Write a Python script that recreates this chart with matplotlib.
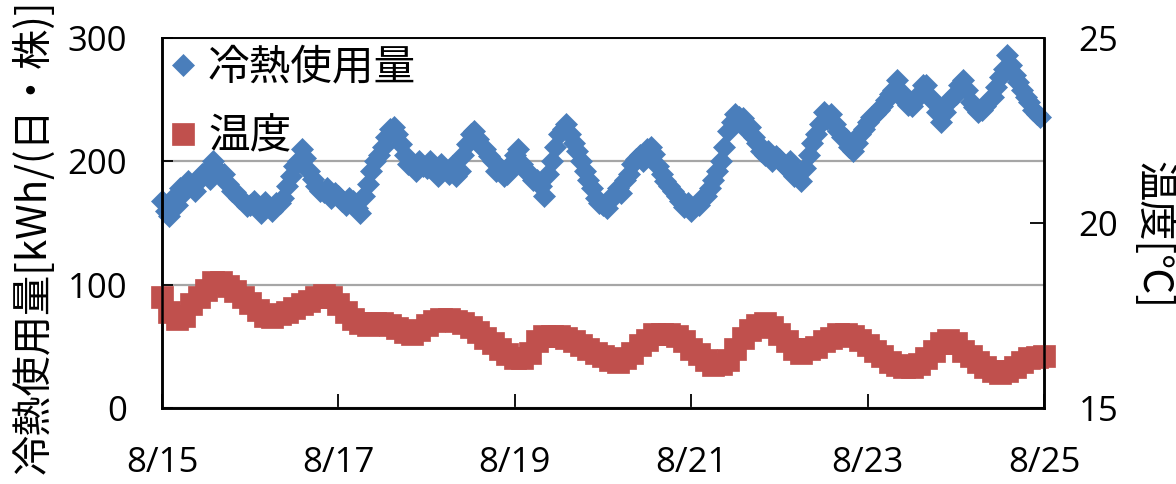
import matplotlib.pyplot as plt
import numpy as np

# cooling: hourly readings, 8/15 0:00 -> 8/24 23:00
cool_hours = np.arange(0, 240)
cooling = [
    168, 160, 156, 170, 165, 178, 175, 184, 180, 176, 185, 190,   # 8/15
    192, 186, 200, 194, 188, 190, 182, 176, 175, 170, 168, 164,
    165, 168, 162, 158, 167, 163, 160, 166, 166, 170, 180, 188,   # 8/16
    196, 200, 210, 203, 192, 186, 180, 176, 175, 178, 170, 174,
    172, 168, 165, 170, 168, 162, 158, 172, 182, 192, 200, 205,   # 8/17
    212, 220, 226, 228, 222, 214, 205, 198, 196, 192, 200, 196,
    195, 200, 192, 188, 198, 194, 190, 196, 188, 192, 205, 214,   # 8/18
    222, 225, 218, 212, 210, 204, 200, 192, 195, 188, 190, 198,
    205, 210, 198, 192, 190, 185, 185, 180, 172, 190, 200, 212,   # 8/19
    222, 226, 230, 222, 215, 208, 200, 192, 185, 178, 170, 166,
    165, 162, 170, 172, 178, 174, 185, 190, 198, 202, 205, 200,   # 8/20
    210, 212, 206, 196, 190, 184, 180, 176, 172, 168, 163, 166,
    160, 164, 165, 170, 172, 178, 185, 192, 200, 212, 225, 232,   # 8/21
    238, 236, 235, 226, 228, 220, 215, 208, 205, 208, 200, 204,
    202, 198, 195, 200, 188, 190, 184, 195, 205, 215, 222, 230,   # 8/22
    240, 234, 238, 230, 225, 220, 218, 212, 208, 215, 222, 226,
    232, 236, 238, 242, 245, 250, 255, 258, 266, 256, 250, 246,   # 8/23
    245, 250, 255, 262, 262, 252, 248, 240, 232, 240, 248, 252,
    255, 262, 266, 258, 248, 244, 240, 242, 245, 250, 252, 260,   # 8/24
    268, 275, 286, 278, 270, 264, 258, 252, 248, 242, 238, 236,
]

# temperature: 2-hourly readings, 8/15 0:00 -> 8/25 0:00
temp_hours = np.arange(0, 241, 2)
temperature = [
    18.0, 17.6, 17.4, 17.5, 17.8, 18.0, 18.2, 18.4, 18.4, 18.3, 18.15, 18.0,
    17.85, 17.65, 17.5, 17.45, 17.55, 17.6, 17.7, 17.8, 17.9, 18.0, 18.05, 18.0,
    17.8, 17.6, 17.4, 17.3, 17.25, 17.3, 17.3, 17.25, 17.15, 17.05, 17.0, 17.1,
    17.25, 17.35, 17.4, 17.4, 17.35, 17.3, 17.2, 17.05, 16.9, 16.75, 16.6, 16.45,
    16.35, 16.35, 16.5, 16.8, 16.95, 16.95, 16.95, 16.9, 16.82, 16.7, 16.6, 16.5,
    16.4, 16.3, 16.25, 16.35, 16.5, 16.7, 16.85, 17.0, 17.0, 17.0, 16.95, 16.8,
    16.6, 16.45, 16.3, 16.15, 16.2, 16.3, 16.6, 16.9, 17.1, 17.25, 17.3, 17.2,
    17.0, 16.8, 16.6, 16.5, 16.6, 16.65, 16.8, 16.9, 17.0, 17.0, 16.95, 16.85,
    16.7, 16.55, 16.4, 16.25, 16.15, 16.1, 16.1, 16.2, 16.35, 16.55, 16.75, 16.85,
    16.75, 16.55, 16.4, 16.25, 16.1, 16.0, 15.95, 16.0, 16.1, 16.25, 16.35, 16.38,
    16.4,
]

tick_days = [0, 2, 4, 6, 8, 10]
tick_labels = ['8/15', '8/17', '8/19', '8/21', '8/23', '8/25']

blue = '#4A7EBB'
red = '#C0504D'
jp = ['Noto Sans CJK JP', 'DejaVu Sans']
num_font = 'Open Sans'

fig = plt.figure(figsize=(11.76, 4.84), dpi=100)
ax = fig.add_axes([162 / 1176, 76 / 484, 882 / 1176, 370 / 484])
ax2 = ax.twinx()

l1, = ax.plot(cool_hours / 24.0, cooling, 'D', ms=11, color=blue, mec=blue,
              mew=0.5, clip_on=False, label='冷熱使用量')
l2, = ax2.plot(temp_hours / 24.0, temperature, 's', ms=16, color=red, mec=red,
               mew=0.5, clip_on=False, label='温度')

ax.set_xlim(0, 10)
ax.set_ylim(0, 300)
ax2.set_ylim(15, 25)
ax.set_xticks(tick_days)
ax.set_xticklabels(tick_labels)
ax.set_yticks([0, 100, 200, 300])
ax2.set_yticks([15, 20, 25])

ax.yaxis.grid(True, color='#A6A6A6', lw=1.6)
ax.set_axisbelow(True)

for a in (ax, ax2):
    for s in a.spines.values():
        s.set_linewidth(1.8)
        s.set_color('black')
    a.spines['top'].set_linewidth(1.2)

ax.tick_params(axis='x', direction='in', length=10, width=1.3, pad=27)
ax.tick_params(axis='y', direction='in', length=8, width=1.3, pad=25)
ax2.tick_params(axis='y', direction='in', length=10, width=1.3, pad=25)
for lab in ax.get_xticklabels() + ax.get_yticklabels() + ax2.get_yticklabels():
    lab.set_fontfamily(num_font)
    lab.set_fontsize(25)

fig.text(33 / 1176, 1 - 237 / 484, '冷熱使用量[kWh/(日・株)]', rotation=90,
         ha='center', va='center', fontsize=29, family=jp)
fig.text(1153 / 1176, 1 - 235 / 484, '温度[℃]', rotation=270,
         ha='center', va='center', fontsize=29, family=jp)

ax.legend([l1, l2], ['冷熱使用量', '温度'], loc='upper left',
          bbox_to_anchor=(0.012, 0.975), frameon=False,
          prop={'family': jp, 'size': 30}, handlelength=0.5,
          handletextpad=0.35, labelspacing=0.68, borderpad=0,
          borderaxespad=0, numpoints=1, markerscale=1.0)

fig.savefig('out.png', dpi=100)
